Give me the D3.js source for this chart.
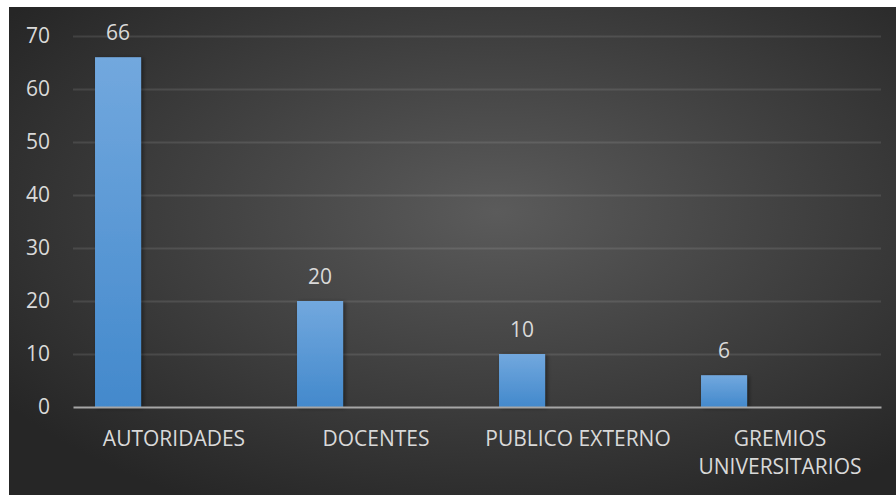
<!DOCTYPE html>
<html>
<head>
<meta charset="utf-8">
<script src="https://cdn.jsdelivr.net/npm/d3@7"></script>
<style>
  html, body { margin: 0; padding: 0; background: #fff; }
  svg { display: block; font-family: "Open Sans", "Noto Sans", sans-serif; }
</style>
</head>
<body>
<div class="svg-container"></div>
<script>
// data
var categories = ["AUTORIDADES", "DOCENTES", "PUBLICO EXTERNO", "GREMIOS UNIVERSITARIOS"];
var categoryLines = [["AUTORIDADES"], ["DOCENTES"], ["PUBLICO EXTERNO"], ["GREMIOS", "UNIVERSITARIOS"]];
var values = [66, 20, 10, 6];
var yTicks = [0, 10, 20, 30, 40, 50, 60, 70];

var width = 896, height = 495;
var fontSize = "21px";

var svg = d3.select(".svg-container")
    .append("svg")
    .attr("width", width)
    .attr("height", height)
    .attr("viewBox", `0 0 ${width} ${height}`);

var defs = svg.append("defs");

var bg = defs.append("radialGradient")
    .attr("id", "bg")
    .attr("cx", "55%")
    .attr("cy", "42%")
    .attr("r", "68%");
bg.append("stop").attr("offset", "0%").attr("stop-color", "#5b5b5b");
bg.append("stop").attr("offset", "100%").attr("stop-color", "#262626");

var barGrad = defs.append("linearGradient")
    .attr("id", "barGrad")
    .attr("x1", 0).attr("y1", 0).attr("x2", 0).attr("y2", 1);
barGrad.append("stop").attr("offset", "0%").attr("stop-color", "#72a8de");
barGrad.append("stop").attr("offset", "100%").attr("stop-color", "#4389cc");

defs.append("filter")
    .attr("id", "shadow")
    .attr("x", "-20%").attr("y", "-20%").attr("width", "150%").attr("height", "140%")
    .append("feDropShadow")
    .attr("dx", 2).attr("dy", 1)
    .attr("stdDeviation", 2)
    .attr("flood-color", "#000")
    .attr("flood-opacity", 0.45);

// chart background
svg.append("rect")
    .attr("x", 9).attr("y", 7)
    .attr("width", width - 9).attr("height", height - 7)
    .attr("fill", "url(#bg)");

var plot = { left: 73, right: 881, top: 36, bottom: 407 };

var xScale = d3.scaleBand()
    .domain(categories)
    .range([plot.left, plot.right])
    .padding(0);

var yScale = d3.scaleLinear()
    .domain([0, 70])
    .range([plot.bottom, plot.top]);

// gridlines
var yGrid = d3.axisLeft(yScale)
    .tickValues(yTicks.filter(d => d > 0))
    .tickSize(-(plot.right - plot.left))
    .tickFormat("");

svg.append("g")
    .attr("transform", `translate(${plot.left},0)`)
    .call(yGrid)
    .call(g => g.select(".domain").remove())
    .call(g => g.selectAll("line")
        .attr("stroke", "#ffffff")
        .attr("stroke-opacity", 0.1)
        .attr("stroke-width", 2));

// y labels
var yAxis = d3.axisLeft(yScale)
    .tickValues(yTicks)
    .tickSize(0)
    .tickPadding(0);

svg.append("g")
    .attr("transform", `translate(50,0)`)
    .call(yAxis)
    .call(g => g.select(".domain").remove())
    .call(g => g.selectAll("text")
        .attr("fill", "#d9d9d9")
        .style("font-size", fontSize)
        .style("font-family", "'Open Sans', 'Noto Sans', sans-serif"));

// bars
var bw = xScale.bandwidth();
var barOffset = bw * 0.109;
var barWidth = bw * 0.228;

var data = categories.map((c, i) => ({ cat: c, value: values[i], lines: categoryLines[i] }));

svg.append("g")
    .selectAll("rect")
    .data(data)
    .enter()
    .append("rect")
    .attr("x", d => xScale(d.cat) + barOffset)
    .attr("y", d => yScale(d.value))
    .attr("width", barWidth)
    .attr("height", d => yScale(0) - yScale(d.value))
    .attr("fill", "url(#barGrad)")
    .attr("filter", "url(#shadow)");

// x axis line
var xAxis = d3.axisBottom(xScale).tickSize(0).tickFormat("");
svg.append("g")
    .attr("transform", `translate(0,${plot.bottom})`)
    .call(xAxis)
    .call(g => g.select(".domain")
        .attr("stroke", "#a6a6a6")
        .attr("stroke-width", 2));

// value labels
svg.append("g")
    .selectAll("text")
    .data(data)
    .enter()
    .append("text")
    .attr("x", d => xScale(d.cat) + barOffset + barWidth / 2)
    .attr("y", d => yScale(d.value) - 17)
    .attr("text-anchor", "middle")
    .attr("fill", "#d9d9d9")
    .style("font-size", fontSize)
    .text(d => d.value);

// category labels
var catText = svg.append("g")
    .selectAll("text")
    .data(data)
    .enter()
    .append("text")
    .attr("x", d => xScale(d.cat) + bw / 2)
    .attr("y", 446)
    .attr("text-anchor", "middle")
    .attr("fill", "#d9d9d9")
    .style("font-size", fontSize);

catText.selectAll("tspan")
    .data(d => d.lines.map(t => ({ t: t, x: xScale(d.cat) + bw / 2 })))
    .enter()
    .append("tspan")
    .attr("x", d => d.x)
    .attr("dy", (d, i) => i === 0 ? 0 : 28)
    .text(d => d.t);
</script>
</body>
</html>
